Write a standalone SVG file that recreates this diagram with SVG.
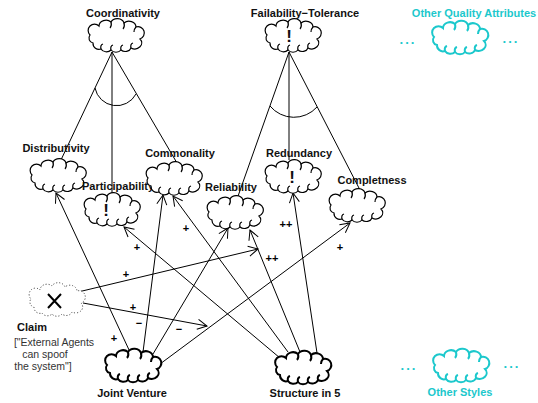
<svg xmlns="http://www.w3.org/2000/svg" xmlns:xlink="http://www.w3.org/1999/xlink" width="538" height="403" viewBox="0 0 538 403">
<style>
text{font-family:"Liberation Sans",Arial,sans-serif;}
.lbl{font-size:11px;font-weight:bold;fill:#111;text-anchor:middle;}
.cy{fill:#1cc8cc;}
.dots{font-size:13px;font-weight:bold;fill:#1cc8cc;text-anchor:middle;letter-spacing:2px;}
.sign{font-size:11px;font-weight:bold;fill:#000;text-anchor:middle;}
.ex{font-size:17px;font-weight:bold;fill:#111;text-anchor:middle;}
.note{font-size:10.5px;fill:#333;text-anchor:middle;}
.c1{fill:#fff;stroke:#000;stroke-width:1.2;}
.c2{fill:#fff;stroke:#000;stroke-width:2;}
.c3{fill:#fff;stroke:#1cc8cc;stroke-width:2;}
.c4{fill:#fff;stroke:#333;stroke-width:1;stroke-dasharray:1 2;}
.ln{fill:none;stroke:#000;stroke-width:1;}
.arr{fill:none;stroke:#000;stroke-width:1;marker-end:url(#open);}
</style>
<defs>
<marker id="open" markerUnits="userSpaceOnUse" markerWidth="14" markerHeight="12" refX="10" refY="5" orient="auto" overflow="visible">
<path d="M0.5,0 L10,5 L0.5,10" fill="none" stroke="#000" stroke-width="1"/>
</marker>
<g id="cloud">
<path d="M-22,7 A6 6 0 0 0 -14,13 A6 5 0 0 0 -4,14 A6 5 0 0 0 6,14 A6 5 0 0 0 16,12 A7 6 0 0 0 25,3 A6 6 0 0 0 21,-9 A7 6 0 0 0 9,-13 A7 6 0 0 0 -4,-14 A7 6 0 0 0 -16,-10 A6 6 0 0 0 -25,-1 A5 5 0 0 0 -22,7 Z"/>
<path fill="none" d="M-14,13 q-1,-4 2,-5 M-4,14 q-1,-4 2,-5 M6,14 q-1,-4 2,-5 M16,12 q-1,-4 2,-5 M9,-13 q1,4 -1,6 M-4,-14 q1,4 -1,6 M21,-9 q-2,2 -2,5"/>
</g>
<g id="cloudd">
<path d="M-22,7 A6 6 0 0 0 -14,13 A6 5 0 0 0 -4,14 A6 5 0 0 0 6,14 A6 5 0 0 0 16,12 A7 6 0 0 0 25,3 A6 6 0 0 0 21,-9 A7 6 0 0 0 9,-13 A7 6 0 0 0 -4,-14 A7 6 0 0 0 -16,-10 A6 6 0 0 0 -25,-1 A5 5 0 0 0 -22,7 Z"/>
</g>
</defs>

<g id="connectors">
<path class="ln" d="M112,52 L60,162 M112,52 L112,194 M112,52 L177,163"/>
<path class="ln" d="M95,88 A22 22 0 0 0 136,94"/>
<path class="ln" d="M289,52 L237,199 M289,52 L289,160 M289,52 L360,190"/>
<path class="ln" d="M270,106 A31 31 0 0 0 317,107"/>
<path class="arr" d="M130,352 L56,193"/>
<path class="arr" d="M143,352 L163,195"/>
<path class="arr" d="M153,354 L228,228"/>
<path class="arr" d="M160,364 L350,223"/>
<path class="arr" d="M280,358 L124,227"/>
<path class="arr" d="M288,352 L173,196"/>
<path class="arr" d="M300,352 L250,230"/>
<path class="arr" d="M317,353 L293,193"/>
<path class="arr" d="M78,292 L258,249"/>
<path class="arr" d="M83,303 L207,326"/>
<text class="sign" x="114" y="342">+</text>
<text class="sign" x="340" y="251">+</text>
<text class="sign" x="137" y="251">+</text>
<text class="sign" x="186" y="232">+</text>
<text class="sign" x="272" y="262">++</text>
<text class="sign" x="286" y="228">++</text>
<text class="sign" x="126" y="278">+</text>
<text class="sign" x="133" y="311">+</text>
<text class="sign" x="139" y="327">−</text>
<text class="sign" x="179" y="333">−</text>
</g>

<g id="coordinativity">
<use xlink:href="#cloud" href="#cloud" class="c1" transform="translate(115,36)"/>
<text class="lbl" x="123" y="17">Coordinativity</text>
</g>
<g id="failability-tolerance">
<use xlink:href="#cloud" href="#cloud" class="c1" transform="translate(292,36)"/>
<text class="ex" x="289" y="42">!</text>
<text class="lbl" x="305" y="17">Failability−Tolerance</text>
</g>
<g id="other-quality-attributes">
<use xlink:href="#cloud" href="#cloud" class="c3" transform="translate(459,38)"/>
<text class="lbl cy" x="474" y="17">Other Quality Attributes</text>
<text class="dots" x="408" y="44">...</text>
<text class="dots" x="511" y="43">...</text>
</g>
<g id="distributivity">
<use xlink:href="#cloud" href="#cloud" class="c1" transform="translate(57,176)"/>
<text class="lbl" x="56" y="152">Distributivity</text>
</g>
<g id="participability">
<use xlink:href="#cloud" href="#cloud" class="c1" transform="translate(111,210)"/>
<text class="ex" x="106" y="216">!</text>
<text class="lbl" x="118" y="190">Participability</text>
</g>
<g id="commonality">
<use xlink:href="#cloud" href="#cloud" class="c1" transform="translate(173,179)"/>
<text class="lbl" x="180" y="157">Commonality</text>
</g>
<g id="reliability">
<use xlink:href="#cloud" href="#cloud" class="c1" transform="translate(234,213)"/>
<text class="lbl" x="231" y="191">Reliability</text>
</g>
<g id="redundancy">
<use xlink:href="#cloud" href="#cloud" class="c1" transform="translate(292,177)"/>
<text class="ex" x="292" y="183">!</text>
<text class="lbl" x="299" y="157">Redundancy</text>
</g>
<g id="completness">
<use xlink:href="#cloud" href="#cloud" class="c1" transform="translate(356,206)"/>
<text class="lbl" x="372" y="184">Completness</text>
</g>
<g id="claim">
<use xlink:href="#cloudd" href="#cloudd" class="c4" transform="translate(56,300)"/>
<path d="M48,294 L61,308 M61,294 L48,308" stroke="#000" stroke-width="2" fill="none"/>
<text class="lbl" x="32" y="331">Claim</text>
<text class="note" x="54" y="346">["External Agents</text>
<text class="note" x="45" y="358">can spoof</text>
<text class="note" x="43" y="370">the system"]</text>
</g>
<g id="joint-venture">
<use xlink:href="#cloud" href="#cloud" class="c2" transform="translate(132,366)"/>
<text class="lbl" x="132" y="397">Joint Venture</text>
</g>
<g id="structure-in-5">
<use xlink:href="#cloud" href="#cloud" class="c2" transform="translate(302,368)"/>
<text class="lbl" x="305" y="397">Structure in 5</text>
</g>
<g id="other-styles">
<use xlink:href="#cloud" href="#cloud" class="c3" transform="translate(460,366)"/>
<text class="lbl cy" x="460" y="396">Other Styles</text>
<text class="dots" x="409" y="370">...</text>
<text class="dots" x="512" y="368">...</text>
</g>
</svg>
